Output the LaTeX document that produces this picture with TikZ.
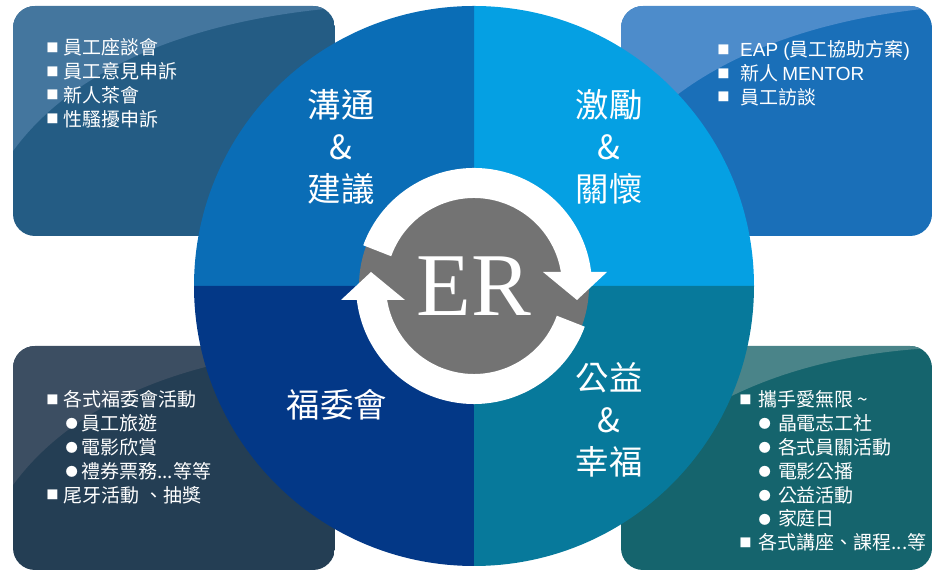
\documentclass[tikz,border=0pt]{standalone}
\usepackage{fontspec}
\setmainfont{Noto Sans CJK TC}
\newfontfamily\erfont{Liberation Serif}
\newfontfamily\latin{Liberation Sans}
\usetikzlibrary{calc}

\definecolor{tlBox}{HTML}{245C84}
\definecolor{tlLight}{HTML}{44769E}
\definecolor{trBox}{HTML}{1A6FB8}
\definecolor{trLight}{HTML}{4D8CCB}
\definecolor{blBox}{HTML}{243E54}
\definecolor{blLight}{HTML}{3C4E62}
\definecolor{brBox}{HTML}{15646D}
\definecolor{brLight}{HTML}{4A8489}
\definecolor{qTL}{HTML}{0A6DB6}
\definecolor{qTR}{HTML}{05A0E3}
\definecolor{qBL}{HTML}{033887}
\definecolor{qBR}{HTML}{07799B}
\definecolor{erGray}{HTML}{737373}

\newcommand{\sqb}{\raisebox{1.3pt}{\fontsize{7}{7}\selectfont ■}}
\newcommand{\dtb}{\raisebox{0.8pt}{\fontsize{7}{7}\selectfont ●}}

\begin{document}
\begin{tikzpicture}[
    x=0.2mm, y=0.2mm,
    ring/.style={white, line width=6mm},
    title/.style={text=white, align=center, inner sep=0pt, font=\fontsize{19}{24}\selectfont},
    list/.style={text=white, align=left, anchor=north west, inner sep=0pt, font=\fontsize{10.8}{13.6}\selectfont}
]
    \useasboundingbox (0,0) rectangle (933,571);

    % --- 1. 四角圓角方塊 (Boxes) ---
    \foreach \x/\y/\w/\h/\main/\light in {13/335/322/230/tlBox/tlLight, 621/335/311/230/trBox/trLight,
                                          13/1/322/224/blBox/blLight, 621/1/311/224/brBox/brLight}{
        \begin{scope}
            \clip[rounded corners=4.4mm] (\x,\y) rectangle ++(\w,\h);
            \fill[\main] (\x,\y) rectangle ++(\w,\h);
            % 左上方較亮的弧形區塊
            \fill[\light] (\x,\y+85) .. controls (\x+57,\y+163) and (\x+167,\y+214) .. (\x+\w,\y+\h-2)
                -- (\x+\w,\y+\h) -- (\x,\y+\h) -- cycle;
        \end{scope}
    }

    % --- 2. 中央大圓, 四個扇形 (Quadrants) ---
    \coordinate (C) at (474,285);
    \foreach \a/\col in {0/qTR, 90/qTL, 180/qBL, 270/qBR}{
        \fill[\col] (C) -- ++(\a:280) arc[start angle=\a, delta angle=90, radius=280] -- cycle;
    }

    % --- 3. ER 與循環箭頭 ---
    \fill[erGray] (C) circle[radius=115];
    \draw[ring] ($(C)+(160:103)$) arc[start angle=160, end angle=6, radius=103];
    \draw[ring] ($(C)+(-20:103)$) arc[start angle=-20, end angle=-174, radius=103];
    \fill[white] ($(C)+(69,14)$) -- ($(C)+(133,14)$) -- ($(C)+(103,-14)$) -- cycle;
    \fill[white] ($(C)+(-69,-14)$) -- ($(C)+(-133,-14)$) -- ($(C)+(-103,14)$) -- cycle;
    \node[text=white, inner sep=0pt, font=\erfont\fontsize{51}{51}\selectfont] (ER) at (C) {ER};

    % --- 4. 扇形標題 (Titles) ---
    \node[title] (comm) at (341,424) {溝通\\\&\\建議};
    \node[title] (care) at (609,424) {激勵\\\&\\關懷};
    \node[title] (welf) at (337,166) {福委會};
    \node[title] (happy) at (609,151) {公益\\\&\\幸福};

    % --- 5. 各方塊的項目 (Lists) ---
    \node[list] (commList) at (46,533) {%
        \sqb\hspace{3pt}員工座談會\\
        \sqb\hspace{3pt}員工意見申訴\\
        \sqb\hspace{3pt}新人茶會\\
        \sqb\hspace{3pt}性騷擾申訴};
    \node[list] (careList) at (717,531) {%
        \sqb\hspace{6pt}{\latin EAP (}員工協助方案{\latin )}\\
        \sqb\hspace{6pt}新人 {\latin MENTOR}\\
        \sqb\hspace{6pt}員工訪談};
    \node[list] (welfList) at (46,181) {%
        \sqb\hspace{3pt}各式福委會活動\\
        \hspace{11pt}\dtb\hspace{2pt}員工旅遊\\
        \hspace{11pt}\dtb\hspace{2pt}電影欣賞\\
        \hspace{11pt}\dtb\hspace{2pt}禮券票務...等等\\
        \sqb\hspace{3pt}尾牙活動 、抽獎};
    \node[list] (happyList) at (739,181) {%
        \sqb\hspace{4pt}攜手愛無限 \textasciitilde\\
        \hspace{11pt}\dtb\hspace{4pt}晶電志工社\\
        \hspace{11pt}\dtb\hspace{4pt}各式員關活動\\
        \hspace{11pt}\dtb\hspace{4pt}電影公播\\
        \hspace{11pt}\dtb\hspace{4pt}公益活動\\
        \hspace{11pt}\dtb\hspace{4pt}家庭日\\
        \sqb\hspace{4pt}各式講座、課程...等};
\end{tikzpicture}
\end{document}
